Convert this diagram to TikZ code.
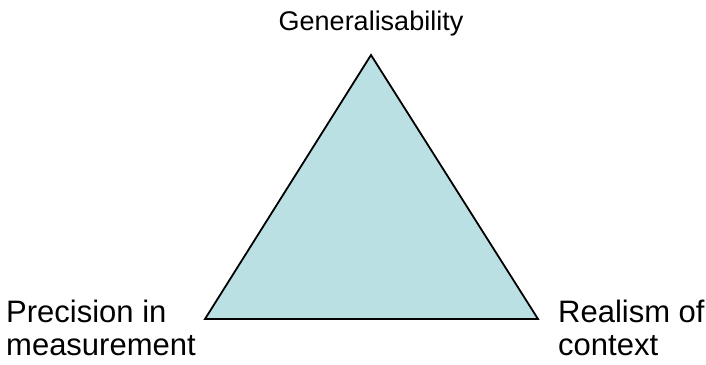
\documentclass[tikz,border=0pt]{standalone}
\usepackage{fontspec}
\setmainfont{Liberation Sans}
\definecolor{trifill}{RGB}{187,224,227}
\begin{document}
\begin{tikzpicture}[x=1pt,y=1pt,
  lbl/.style={inner sep=0pt, font=\fontsize{31}{33}\selectfont},
  toplbl/.style={inner sep=0pt, font=\fontsize{27}{30}\selectfont}]
\useasboundingbox (0,0) rectangle (706,364);
\coordinate (A) at (371,309);
\coordinate (B) at (205,45);
\coordinate (C) at (538,45);
\draw[fill=trifill, line width=1.8pt, line join=miter] (A) -- (B) -- (C) -- cycle;
\node[toplbl, anchor=base] (gen) at (371,333) {Generalisability};
\node[lbl, anchor=base west] (p1) at (6,42) {Precision in};
\node[lbl, anchor=base west] (p2) at (6,9) {measurement};
\node[lbl, anchor=base west] (r1) at (558,42) {Realism of};
\node[lbl, anchor=base west] (r2) at (558,9) {context};
\end{tikzpicture}
\end{document}
